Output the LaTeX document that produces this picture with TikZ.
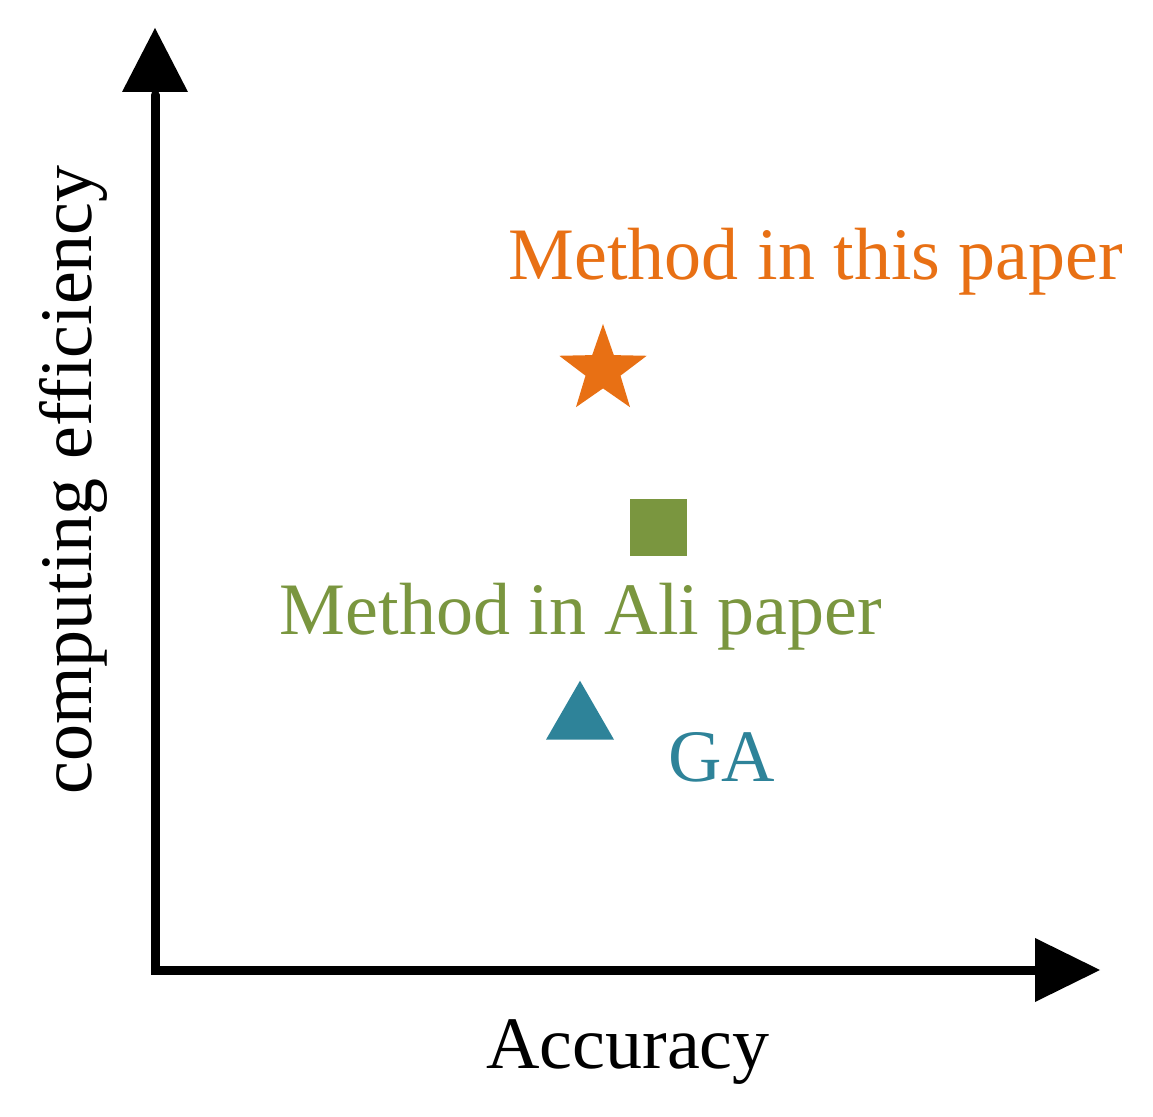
\documentclass[tikz,border=0pt]{standalone}
\usepackage{fontspec}
\setmainfont{Liberation Serif}
\usetikzlibrary{shapes.geometric}
\definecolor{cor}{HTML}{E87014}
\definecolor{cgr}{HTML}{7A963F}
\definecolor{ctl}{HTML}{2E8399}
\begin{document}
\begin{tikzpicture}[x=0.5pt,y=-0.5pt,
  lab/.style={font=\fontsize{37}{40}\selectfont,inner sep=0},
  ax/.style={line width=4.5pt}]
\useasboundingbox (0,0) rectangle (1153,1117);
\coordinate (o) at (155,970);
\coordinate (ytip) at (155,95);
\coordinate (xtip) at (1035,970);
\draw[ax,line cap=round] (ytip) -- (o) -- (xtip);
\fill (155,28) -- (188,92) -- (122,92) -- cycle;
\fill (1100,970) -- (1035,938) -- (1035,1002) -- cycle;
\node[star,star points=5,star point ratio=2.5,fill=cor,minimum size=92pt*0.5,inner sep=0] (s) at (603,370) {};
\node[fill=cgr,minimum size=28.5pt,inner sep=0] (q) at (658,528) {};
\node[isosceles triangle,isosceles triangle apex angle=60,shape border rotate=90,fill=ctl,minimum width=34pt,minimum height=28pt,inner sep=0] (t) at (580,720) {};
\node[lab,text=cor] (l1) at (816,262) {Method in this paper};
\node[lab,text=cgr] (l2) at (581,617) {Method in Ali paper};
\node[lab,text=ctl] (l3) at (722,757) {GA};
\node[lab] (xl) at (628,1052) {Accuracy};
\node[lab,rotate=90] (yl) at (73,480) {computing efficiency};
\end{tikzpicture}
\end{document}
